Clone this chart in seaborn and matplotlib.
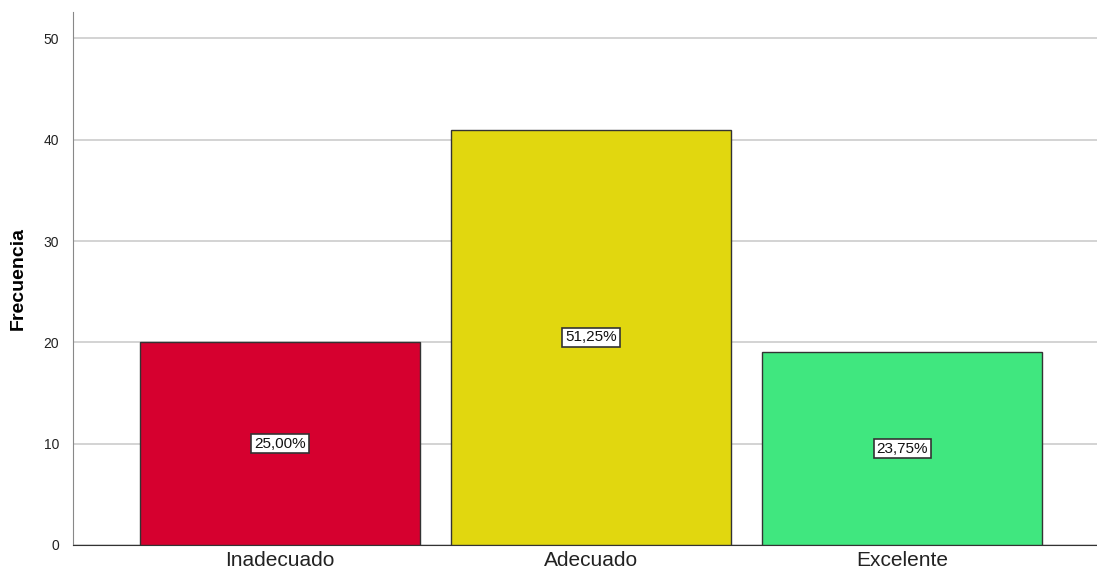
import pandas as pd
import numpy as np
import matplotlib
matplotlib.use("Agg")
import matplotlib.pyplot as plt
import seaborn as sns

categories = ["Inadecuado", "Adecuado", "Excelente"]
counts = [20, 41, 19]
percent_labels = ["25,00%", "51,25%", "23,75%"]
colors = ["#d6002f", "#e1d70f", "#40e77f"]

df = pd.DataFrame({"Categoria": categories, "Frecuencia": counts})

sns.set_style("white")
plt.rcParams['font.family'] = ['Liberation Sans', 'DejaVu Sans']

fig = plt.figure(figsize=(10.97, 5.77), dpi=100)
ax = fig.add_axes([0.0665, 0.0555, 0.9335, 0.9235])

sns.barplot(data=df, x="Categoria", y="Frecuencia", hue="Categoria",
            palette=colors, width=0.9, edgecolor="#333333", linewidth=1,
            saturation=1, legend=False, ax=ax, zorder=3)

# percent labels at half height of each bar
for i, (c, lab) in enumerate(zip(counts, percent_labels)):
    ax.text(i, c / 2, lab, ha="center", va="center", fontsize=11, zorder=5,
            color="#111111",
            bbox=dict(boxstyle="square,pad=0.18", fc="white", ec="#333333", lw=1.2))

ax.set_ylim(0, 52.6)
ax.set_xlim(-0.666, 2.627)
ax.set_yticks([0, 10, 20, 30, 40, 50])
ax.yaxis.grid(True, color="#cccccc", linewidth=1.2, zorder=0)
ax.set_axisbelow(True)

for s in ["top", "right"]:
    ax.spines[s].set_visible(False)
ax.spines["left"].set_color("#888888")
ax.spines["bottom"].set_color("#333333")

ax.tick_params(axis="y", labelsize=10, length=0, pad=10, labelcolor="#222222")
ax.tick_params(axis="x", labelsize=15, length=0, pad=4, labelcolor="#222222")
ax.set_xlabel("")
ax.set_ylabel("Frecuencia", fontsize=14, fontweight="bold", labelpad=12, color="black")

fig.savefig("out.png", dpi=100)
